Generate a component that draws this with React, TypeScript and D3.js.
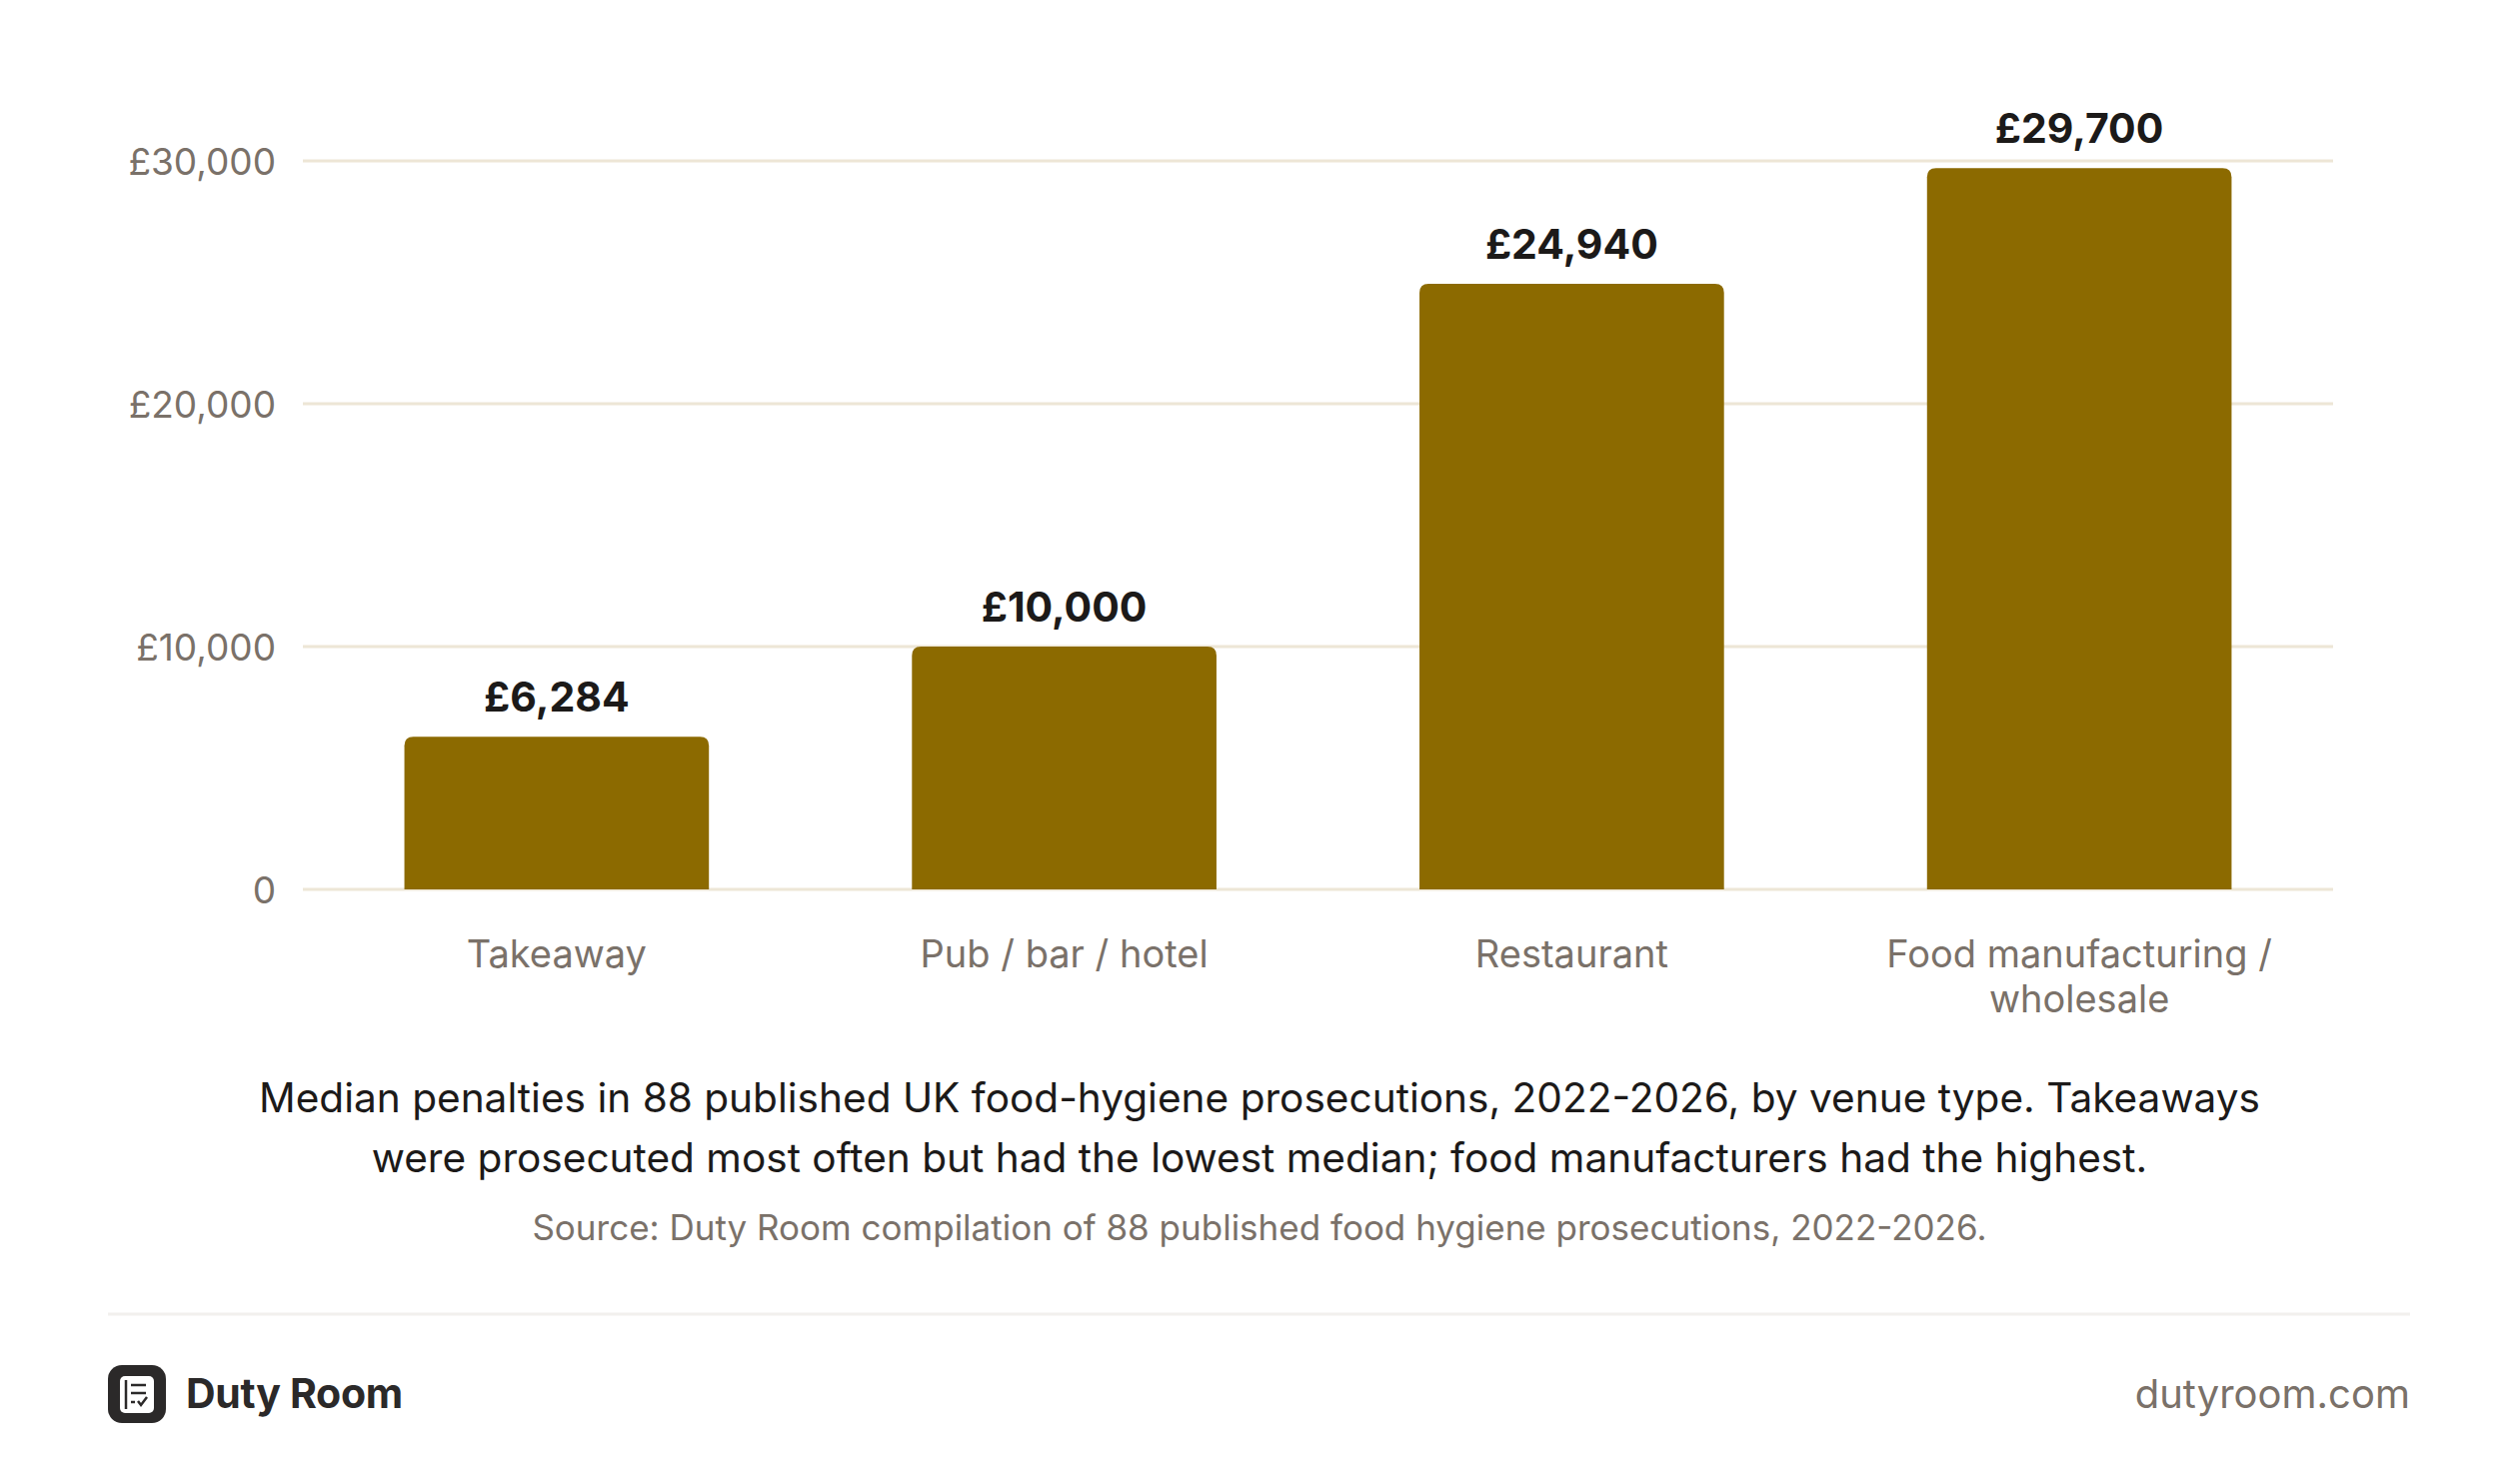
import * as d3 from "d3";

const categories = ["Takeaway", "Pub / bar / hotel", "Restaurant", "Food manufacturing / wholesale"];
const categoryLines = [["Takeaway"], ["Pub / bar / hotel"], ["Restaurant"], ["Food manufacturing /", "wholesale"]];
const medianPenalty = [6284, 10000, 24940, 29700];
const yTicks = [0, 10000, 20000, 30000];
const captionLines = [
    "Median penalties in 88 published UK food-hygiene prosecutions, 2022-2026, by venue type. Takeaways",
    "were prosecuted most often but had the lowest median; food manufacturers had the highest.",
];
const sourceText = "Source: Duty Room compilation of 88 published food hygiene prosecutions, 2022-2026.";
const brandName = "Duty Room";
const brandUrl = "dutyroom.com";

const App: React.FC = () => {
    const width = 2520;
    const height = 1485;
    const font = "Inter, 'Noto Sans', sans-serif";
    const muted = "#7a7169";
    const ink = "#1c1a19";
    const barColor = "#8c6a00";
    const gridColor = "#ede6d6";

    const x = d3.scaleBand(categories, [303, 2334]).paddingInner(0.4).paddingOuter(0.2);
    const y = d3.scaleLinear([0, 30000], [890, 161]);
    const money = (d: number) => (d === 0 ? "0" : "£" + d3.format(",")(d));
    const r = 9;

    const barPath = (cat: string, v: number) => {
        const x0 = x(cat) ?? 0;
        const w = x.bandwidth();
        const y0 = y(0);
        const y1 = y(v);
        return `M${x0},${y0}V${y1 + r}Q${x0},${y1} ${x0 + r},${y1}H${x0 + w - r}Q${x0 + w},${y1} ${x0 + w},${y1 + r}V${y0}Z`;
    };

    return (
        <>
            <style>{`body{margin:0;background:#fff}`}</style>
            <svg width={width} height={height} style={{ display: "block", fontFamily: font }}>
                <rect width={width} height={height} fill="#ffffff" />
                {/* gridlines + y ticks */}
                <g>
                    {yTicks.map((t) => (
                        <g key={t}>
                            <line x1={303} x2={2334} y1={y(t)} y2={y(t)} stroke={gridColor} strokeWidth={3} />
                            <text x={276} y={y(t)} textAnchor="end" dominantBaseline="central" fontSize={37} fill={muted}>
                                {money(t)}
                            </text>
                        </g>
                    ))}
                </g>
                {/* bars */}
                <g fill={barColor}>
                    {categories.map((c, i) => (
                        <path key={c} d={barPath(c, medianPenalty[i])} />
                    ))}
                </g>
                {/* value labels */}
                <g textAnchor="middle" fontSize={41} fontWeight={700} fill={ink}>
                    {categories.map((c, i) => (
                        <text key={c} x={(x(c) ?? 0) + x.bandwidth() / 2} y={y(medianPenalty[i]) - 25}>
                            {money(medianPenalty[i])}
                        </text>
                    ))}
                </g>
                {/* category labels */}
                <g textAnchor="middle" fontSize={38} fill={muted}>
                    {categories.map((c, i) => (
                        <text key={c} x={(x(c) ?? 0) + x.bandwidth() / 2} y={968}>
                            {categoryLines[i].map((line, j) => (
                                <tspan key={j} x={(x(c) ?? 0) + x.bandwidth() / 2} dy={j === 0 ? 0 : 45}>
                                    {line}
                                </tspan>
                            ))}
                        </text>
                    ))}
                </g>
                {/* caption */}
                <g textAnchor="middle">
                    {captionLines.map((line, i) => (
                        <text key={i} x={1260} y={1113 + i * 60} fontSize={40.6} fill={ink}>
                            {line}
                        </text>
                    ))}
                    <text x={1260} y={1241} fontSize={35} fill={muted}>
                        {sourceText}
                    </text>
                </g>
                {/* footer */}
                <line x1={108} x2={2411} y1={1315} y2={1315} stroke="#f2f0ed" strokeWidth={3} />
                <g transform="translate(108,1366)">
                    <rect width={58} height={58} rx={14} fill="#2b2929" />
                    <rect x={12} y={11} width={34} height={37} rx={5} fill="#ffffff" />
                    <line x1={18} x2={18} y1={15} y2={44} stroke="#2b2929" strokeWidth={2.5} />
                    <line x1={23} x2={38} y1={20} y2={20} stroke="#2b2929" strokeWidth={2.5} />
                    <line x1={23} x2={38} y1={28} y2={28} stroke="#2b2929" strokeWidth={2.5} />
                    <line x1={23} x2={27} y1={37} y2={37} stroke="#2b2929" strokeWidth={2.5} />
                    <path d="M30,36 L33,40 L39,32" fill="none" stroke="#2b2929" strokeWidth={2.5} />
                </g>
                <text x={186} y={1409} fontSize={41} fontWeight={700} letterSpacing={-0.3} fill="#2b2929">
                    {brandName}
                </text>
                <text x={2411} y={1409} textAnchor="end" fontSize={40} fill={muted}>
                    {brandUrl}
                </text>
            </svg>
        </>
    );
};

export default App;
